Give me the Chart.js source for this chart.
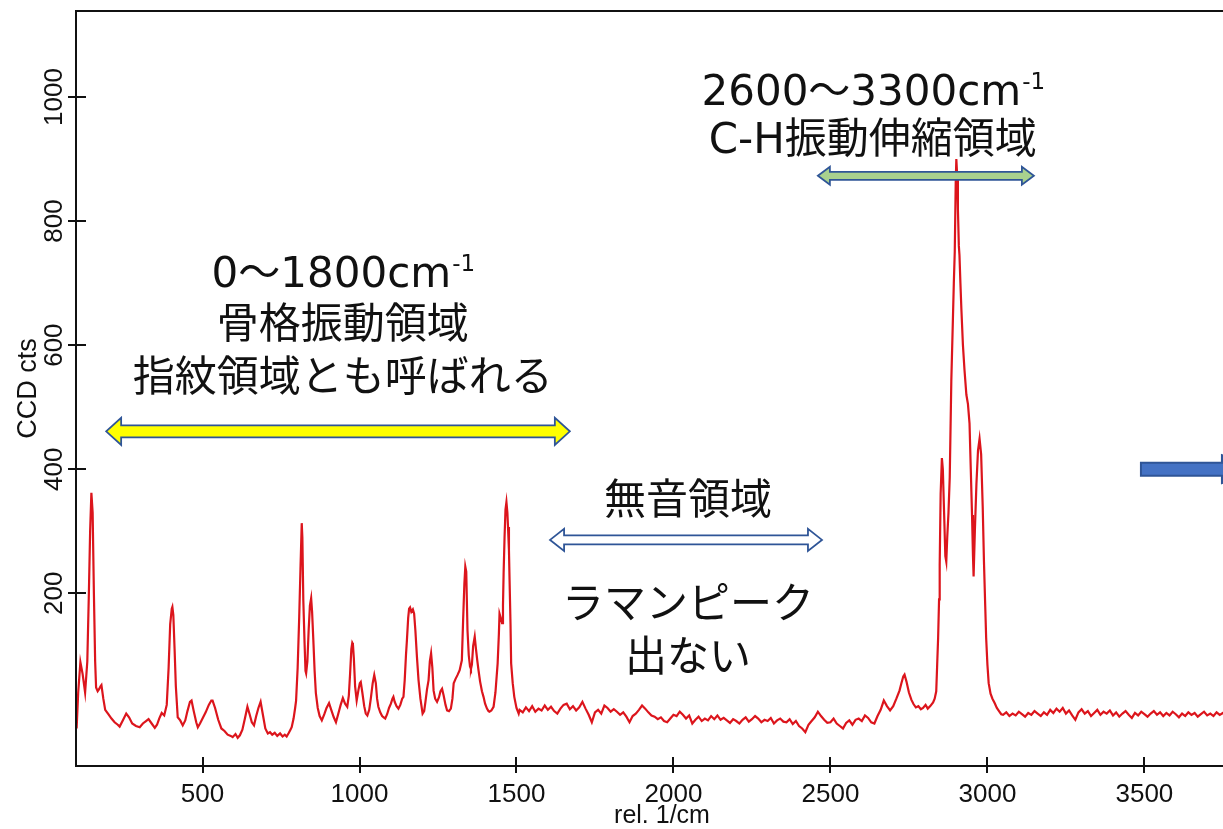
<!DOCTYPE html>
<html>
<head>
<meta charset="utf-8">
<script src="https://cdn.jsdelivr.net/npm/chart.js@4.4.1/dist/chart.umd.min.js"></script>
<style>
  html, body { margin: 0; padding: 0; background: #fff; overflow: hidden; }
  #wrap { position: relative; width: 1260px; height: 829px; }
</style>
</head>
<body>
<div id="wrap"><canvas id="spectrum" width="1260" height="829"></canvas></div>
<script>
// Raman spectrum (rel. 1/cm vs CCD cts)
const fingerprintShift = [99,104,111,118,126,133,138,142,146,150,154,158,161,166,170,175,178,184,190,200,
  210,220,230,236,246,257,266,276,288,300,310,320,328,338,348,355,362,370,378,386,
  392,397,402,404,407,411,415,421,429,437,445,452,460,465,472,480,485,492,500,510,
  520,528,532,540,550,560,570,580,590,596,605,612,619,627,635,643,650,657,664,671,
  678,685,692,700,708,715,722,730,738,747,755,762,768,775,780,784,790,795,798,803,
  808,812,816,818,821,825,828,830,834,838,842,846,849,853,857,861,867,873,880,888,
  895,903,910,918,925,932,940,947,954,961,966,970,974,977,979,982,986,991,997,1001,
  1004,1009,1015,1020,1025,1031,1036,1042,1047,1052,1056,1060,1066,1072,1077,1082,1088,1094,1100,1105,
  1108,1112,1118,1124,1130,1136,1140,1144,1148,1151,1155,1158,1161,1165,1170,1174,1178,1183,1188,1194,
  1201,1206,1210,1215,1220,1224,1228,1232,1236,1241,1247,1253,1258,1263,1268,1274,1279,1285,1291,1296,
  1300,1306,1312,1319,1323,1326,1330,1334,1337,1340,1344,1348,1352,1355,1358,1362,1367,1371,1375,1379,
  1384,1390,1395,1400,1406,1411,1414,1420,1427,1433,1440,1444,1446,1450,1454,1457,1459,1462,1465,1468,
  1471,1473,1476,1478,1481,1483,1488,1493,1500,1507];
const fingerprintCounts = [-18,40,89,70,40,90,200,300,362,330,200,90,48,42,45,50,52,30,12,5,
  -2,-8,-12,-15,-5,6,0,-10,-14,-16,-10,-6,-3,-10,-17,-12,-2,7,3,20,
  80,150,175,178,165,110,50,0,-5,-13,-5,10,25,27,10,-8,-16,-10,-2,8,
  20,27,27,15,-4,-18,-22,-28,-30,-32,-27,-33,-29,-20,-2,17,5,-8,-13,2,
  15,25,5,-18,-26,-24,-28,-25,-30,-26,-31,-28,-31,-25,-20,-16,-2,15,27,80,
  162,240,313,290,189,120,75,71,90,140,180,192,170,124,75,39,15,2,-5,5,
  15,23,12,0,-8,5,20,31,22,17,35,70,110,120,118,95,50,27,45,55,
  57,40,18,6,3,12,30,55,68,55,30,17,8,2,0,-2,5,15,22,30,
  33,25,18,14,20,30,33,60,100,124,160,175,177,170,174,167,140,97,60,30,
  6,10,25,45,60,90,103,80,43,30,25,32,42,46,35,20,11,10,14,30,
  55,62,68,76,85,92,156,215,243,235,140,100,82,78,85,115,130,110,92,76,
  58,42,33,22,14,10,9,11,17,40,87,135,167,160,152,180,232,290,335,347,
  330,307,270,221,150,87,55,33,15,6];

const silentShift = [1510,1520,1530,1540,1550,1560,1570,1580,1590,1600,1610,1620,1630,1640,1650,1660,1670,1680,1690,1700,
  1710,1720,1730,1740,1750,1760,1770,1780,1790,1800,1810,1820,1830,1840,1850,1860,1870,1880,1890,1900,
  1910,1920,1930,1940,1950,1960,1970,1980,1990,2000,2010,2020,2030,2040,2050,2060,2070,2080,2090,2100,
  2110,2120,2130,2140,2150,2160,2170,2180,2190,2200,2210,2220,2230,2240,2250,2260,2270,2280,2290,2300,
  2310,2320,2330,2340,2350,2360,2370,2380,2390,2400,2410,2420,2430,2440,2450,2460,2470,2480,2490,2500,
  2510,2520,2530,2540,2550,2560,2570,2580,2590,2600,2610,2620,2630,2640,2650,2660,2670,2680,2690,2700,
  2710,2720];
const silentCounts = [12,8,16,10,18,9,14,11,19,12,17,10,6,14,20,22,13,18,11,16,
  25,14,4,-8,8,12,6,19,15,9,13,9,4,8,1,-8,2,6,12,19,
  14,8,3,1,-3,0,-6,-8,-2,4,2,9,4,-2,3,-10,-4,1,-6,-2,
  -5,2,-3,3,-4,-1,-5,-9,-3,-6,-10,-4,0,-7,-3,2,-2,-8,-4,-6,
  -1,-10,-5,-2,-7,-8,-3,-11,-6,-14,-18,-24,-12,-6,0,9,2,-4,-9,-8,
  -2,-10,-14,-18,-9,-5,-12,-4,-2,-6,3,-1,-8,-10,2,12,27,18,11,18,
  30,43];

const chShift = [2726,2732,2736,2742,2750,2758,2765,2772,2780,2788,2795,2803,2810,2818,2827,2832,2837,2840,2843,2846,
  2848,2851,2855,2858,2862,2866,2869,2872,2876,2880,2885,2890,2893,2896,2899,2901,2904,2906,2909,2911,
  2914,2917,2922,2927,2933,2938,2943,2947,2951,2954,2956,2960,2965,2970,2975,2980,2985,2989,2993,2996,
  3000,3004,3010,3016,3023,3030,3037,3044];
const chCounts = [55,66,69,58,40,28,21,16,18,13,15,20,14,18,24,30,42,85,128,190,
  245,360,418,400,330,260,251,290,330,387,542,640,700,751,860,900,870,820,760,745,
  700,659,600,560,520,505,474,400,326,260,227,300,376,430,449,424,340,251,180,128,
  85,55,38,30,23,15,10,5];

const tailShift = [3050,3060,3070,3080,3090,3100,3110,3120,3130,3140,3150,3160,3170,3180,3190,3200,3210,3220,3230,3240,
  3250,3260,3270,3280,3290,3300,3310,3320,3330,3340,3350,3360,3370,3380,3390,3400,3410,3420,3430,3440,
  3450,3460,3470,3480,3490,3500,3510,3520,3530,3540,3550,3560,3570,3580,3590,3600,3610,3620,3630,3640,
  3650,3660,3670,3680,3690,3700,3710,3720,3730,3740,3750,3760,3770,3780,3790,3800,3810,3820,3830,3840];
const tailCounts = [4,8,2,6,3,9,5,1,7,4,10,6,2,8,4,12,7,14,9,15,
  6,11,3,-4,8,13,6,10,2,7,12,4,9,6,11,3,8,1,6,10,
  4,-1,7,3,9,5,1,6,10,4,8,2,7,3,9,5,0,6,2,8,
  4,7,1,5,9,3,6,2,8,4,7,2,6,9,3,5,8,2,6,4];

const xTickValues = [500, 1000, 1500, 2000, 2500, 3000, 3500];
const yTickValues = [200, 400, 600, 800, 1000];

// overlay annotations (x in 1/cm, y in cts)
const regionLabels = [
  { x: 2635, y: 1005, text: '2600〜3300cm', sup: '-1' },
  { x: 2635, y: 927, text: 'C-H振動伸縮領域' },
  { x: 947, y: 711, text: '0〜1800cm', sup: '-1' },
  { x: 947, y: 629, text: '骨格振動領域' },
  { x: 947, y: 544, text: '指紋領域とも呼ばれる' },
  { x: 2046, y: 346, text: '無音領域' },
  { x: 2046, y: 177, text: 'ラマンピーク' },
  { x: 2046, y: 93, text: '出ない' }
];
const regionArrows = [
  { from: 193, to: 1670, at: 461, shaft: 12, head: 27, headLen: 15, fill: '#ffff00' },
  { from: 1607, to: 2473, at: 286, shaft: 9, head: 22, headLen: 14, fill: '#ffffff' },
  { from: 2460, to: 3148, at: 873, shaft: 8, head: 18, headLen: 12, fill: '#a9d18e' }
];

const points = [];
[[fingerprintShift, fingerprintCounts], [silentShift, silentCounts],
 [chShift, chCounts], [tailShift, tailCounts]].forEach(([xs, ys]) => {
  xs.forEach((x, i) => points.push({ x: x, y: ys[i] }));
});

const SANS = '"Liberation Sans", Arial, sans-serif';
const JP = '"DejaVu Sans", "Noto Sans CJK JP", sans-serif';

function doubleArrow(ctx, x1, x2, y, a) {
  const s = a.shaft / 2, h = a.head / 2, L = a.headLen;
  ctx.beginPath();
  ctx.moveTo(x1, y);
  ctx.lineTo(x1 + L, y - h);
  ctx.lineTo(x1 + L, y - s);
  ctx.lineTo(x2 - L, y - s);
  ctx.lineTo(x2 - L, y - h);
  ctx.lineTo(x2, y);
  ctx.lineTo(x2 - L, y + h);
  ctx.lineTo(x2 - L, y + s);
  ctx.lineTo(x1 + L, y + s);
  ctx.lineTo(x1 + L, y + h);
  ctx.closePath();
  ctx.fillStyle = a.fill;
  ctx.fill();
  ctx.lineWidth = 1.8;
  ctx.strokeStyle = '#2f5597';
  ctx.stroke();
}

const framePlugin = {
  id: 'frame',
  afterDatasetsDraw(chart) {
    const { ctx, chartArea: a, scales: { x, y } } = chart;
    ctx.save();
    ctx.strokeStyle = '#111';
    ctx.lineWidth = 2;
    ctx.beginPath();
    ctx.moveTo(a.right + 20, a.top);
    ctx.lineTo(a.left, a.top);
    ctx.lineTo(a.left, a.bottom);
    ctx.lineTo(a.right + 20, a.bottom);
    yTickValues.forEach(v => {
      const py = Math.round(y.getPixelForValue(v));
      ctx.moveTo(a.left - 8, py);
      ctx.lineTo(a.left + 10, py);
    });
    xTickValues.forEach(v => {
      const px = Math.round(x.getPixelForValue(v));
      ctx.moveTo(px, a.bottom - 9);
      ctx.lineTo(px, a.bottom + 7);
    });
    ctx.stroke();

    // y tick labels, rotated
    ctx.fillStyle = '#111';
    ctx.font = '26px ' + SANS;
    ctx.textAlign = 'center';
    ctx.textBaseline = 'alphabetic';
    yTickValues.forEach(v => {
      ctx.save();
      ctx.translate(62, y.getPixelForValue(v));
      ctx.rotate(-Math.PI / 2);
      ctx.fillText(String(v), 0, 0);
      ctx.restore();
    });
    ctx.save();
    ctx.font = '27px ' + SANS;
    ctx.translate(36, (a.top + a.bottom) / 2);
    ctx.rotate(-Math.PI / 2);
    ctx.fillText('CCD cts', 0, 0);
    ctx.restore();
    ctx.restore();
  },
  afterDraw(chart) {
    const { ctx, scales: { x, y } } = chart;
    ctx.save();
    regionArrows.forEach(ar => {
      doubleArrow(ctx, x.getPixelForValue(ar.from), x.getPixelForValue(ar.to), y.getPixelForValue(ar.at), ar);
    });
    // block arrow on the right, cut by the frame edge
    const bx = x.getPixelForValue(3489), hx = x.getPixelForValue(3747), by = y.getPixelForValue(400);
    ctx.beginPath();
    ctx.moveTo(bx, by - 6.5);
    ctx.lineTo(hx, by - 6.5);
    ctx.lineTo(hx, by - 14);
    ctx.lineTo(hx + 40, by);
    ctx.lineTo(hx, by + 14);
    ctx.lineTo(hx, by + 6.5);
    ctx.lineTo(bx, by + 6.5);
    ctx.closePath();
    ctx.fillStyle = '#4472c4';
    ctx.fill();
    ctx.lineWidth = 2;
    ctx.strokeStyle = '#2f5597';
    ctx.stroke();

    ctx.fillStyle = '#111';
    ctx.textBaseline = 'middle';
    const big = '42px ' + JP, small = '23px ' + JP;
    regionLabels.forEach(l => {
      const cx = x.getPixelForValue(l.x), cy = y.getPixelForValue(l.y);
      ctx.font = big;
      if (l.sup) {
        const w1 = ctx.measureText(l.text).width;
        ctx.font = small;
        const w2 = ctx.measureText(l.sup).width;
        const left = cx - (w1 + w2) / 2;
        ctx.textAlign = 'left';
        ctx.font = big;
        ctx.fillText(l.text, left, cy);
        ctx.font = small;
        ctx.fillText(l.sup, left + w1 + 1, cy - 11);
      } else {
        ctx.textAlign = 'center';
        ctx.fillText(l.text, cx, cy);
      }
    });
    ctx.restore();
  }
};

new Chart(document.getElementById('spectrum'), {
  type: 'line',
  data: {
    datasets: [{
      data: points,
      borderColor: '#dc151c',
      borderWidth: 2.2,
      pointRadius: 0,
      tension: 0,
      fill: false
    }]
  },
  options: {
    responsive: false,
    animation: false,
    parsing: false,
    layout: { padding: { top: 11, right: 12, left: 0, bottom: 0 } },
    plugins: { legend: { display: false }, tooltip: { enabled: false } },
    scales: {
      x: {
        type: 'linear',
        min: 97,
        max: 3830,
        grid: { display: false },
        border: { display: false },
        afterBuildTicks: s => { s.ticks = xTickValues.map(v => ({ value: v })); },
        afterFit: s => { s.height = 63; },
        ticks: {
          color: '#111',
          font: { family: SANS, size: 26 },
          padding: 5,
          maxRotation: 0,
          autoSkip: false,
          callback: v => String(v)
        },
        title: {
          display: true,
          text: 'rel. 1/cm',
          color: '#111',
          font: { family: SANS, size: 25, lineHeight: 1 },
          padding: 0
        }
      },
      y: {
        type: 'linear',
        min: -78.5,
        max: 1138.7,
        grid: { display: false },
        border: { display: false },
        afterBuildTicks: s => { s.ticks = yTickValues.map(v => ({ value: v })); },
        afterFit: s => { s.width = 76; },
        ticks: { display: false }
      }
    }
  },
  plugins: [framePlugin]
});
</script>
</body>
</html>
